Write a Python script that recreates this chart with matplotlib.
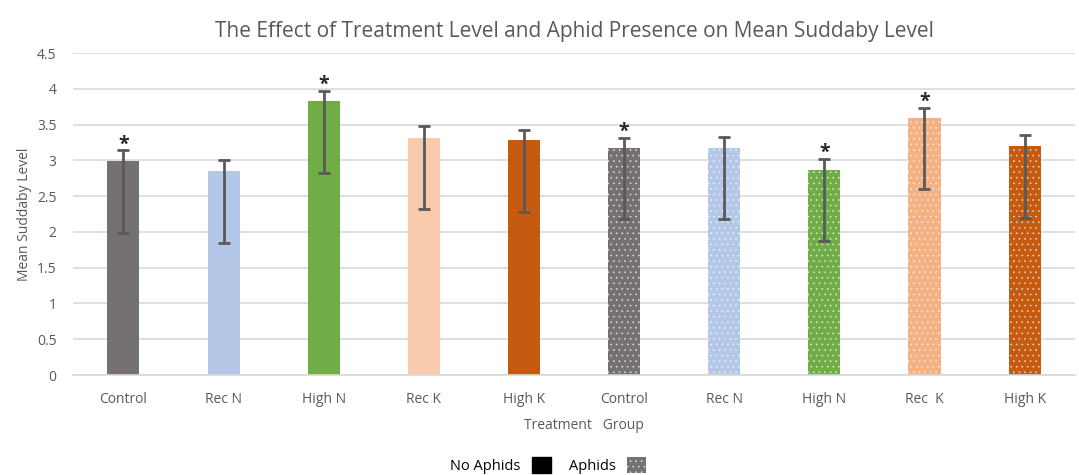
import numpy as np
import matplotlib.pyplot as plt
from matplotlib.patches import Patch

plt.rcParams['font.family'] = ['Open Sans', 'DejaVu Sans']
plt.rcParams['hatch.linewidth'] = 0.5

groups = ["Control", "Rec N", "High N", "Rec K", "High K",
          "Control", "Rec N", "High N", "Rec  K", "High K"]
means = [2.99, 2.85, 3.83, 3.32, 3.28, 3.18, 3.18, 2.87, 3.60, 3.20]
err_up = [0.15, 0.15, 0.14, 0.16, 0.15, 0.14, 0.15, 0.15, 0.14, 0.15]
err_down = [1.0, 1.0, 1.0, 1.0, 1.0, 1.0, 1.0, 1.0, 1.0, 1.0]
signif = [True, False, True, False, False, True, False, True, True, False]
aphids = [False] * 5 + [True] * 5
colors = ["#767171", "#b4c7e7", "#70ad47", "#f8cbad", "#c55a11",
          "#767171", "#b4c7e7", "#70ad47", "#f4b183", "#c55a11"]

fig = plt.figure(figsize=(10.79, 4.75), dpi=100)
ax = fig.add_axes([0.068, 0.2105, 0.928, 0.6775])

x = np.arange(len(groups))
for i in range(len(groups)):
    if aphids[i]:
        ax.bar(x[i], means[i], width=0.32, color=colors[i], edgecolor="#ffffffa0",
               linewidth=0, hatch="...", zorder=2)
    else:
        ax.bar(x[i], means[i], width=0.32, color=colors[i], linewidth=0, zorder=2)

ax.errorbar(x, means, yerr=[err_down, err_up], fmt="none", ecolor="#595959",
            elinewidth=2, capsize=4, capthick=2, zorder=3)

for i in range(len(groups)):
    if signif[i]:
        ax.annotate("*", (x[i], means[i] + err_up[i]), xytext=(0, -3),
                    textcoords="offset points", ha="center", va="bottom",
                    fontsize=14, color="#262626", fontweight="bold")

ax.set_xlim(-0.5, len(groups) - 0.5)
ax.set_ylim(0, 4.5)
ax.set_yticks(np.arange(0, 4.51, 0.5))
ax.set_yticklabels(["0", "0.5", "1", "1.5", "2", "2.5", "3", "3.5", "4", "4.5"])
ax.set_xticks(x)
ax.set_xticklabels(groups)
ax.tick_params(axis="both", length=0, labelsize=10, colors="#595959", pad=12)
ax.tick_params(axis="y", pad=12)
ax.yaxis.grid(True, color="#d9d9d9", linewidth=1.2)
ax.set_axisbelow(True)
for s in ["top", "right", "left"]:
    ax.spines[s].set_visible(False)
ax.spines["bottom"].set_color("#d9d9d9")
ax.spines["bottom"].set_linewidth(1.2)

ax.set_ylabel("Mean Suddaby Level", fontsize=10, color="#595959", labelpad=4)
ax.set_xlabel("Treatment   Group", fontsize=10, color="#595959", labelpad=12)
ax.xaxis.set_label_coords(0.51, -0.135)
ax.set_title("The Effect of Treatment Level and Aphid Presence on Mean Suddaby Level",
             fontsize=15, color="#595959", pad=12)

handles = [Patch(facecolor="black", edgecolor="black"),
           Patch(facecolor="#767171", edgecolor="#ffffffa0", hatch="...", linewidth=0)]
fig.legend(handles, ["No Aphids", "Aphids"], loc="lower center",
           bbox_to_anchor=(0.508, -0.025), ncol=2, frameon=False, markerfirst=False,
           fontsize=10.5, handlelength=1.3, handleheight=1.3, columnspacing=1.2)

fig.savefig("out.png", dpi=100)
